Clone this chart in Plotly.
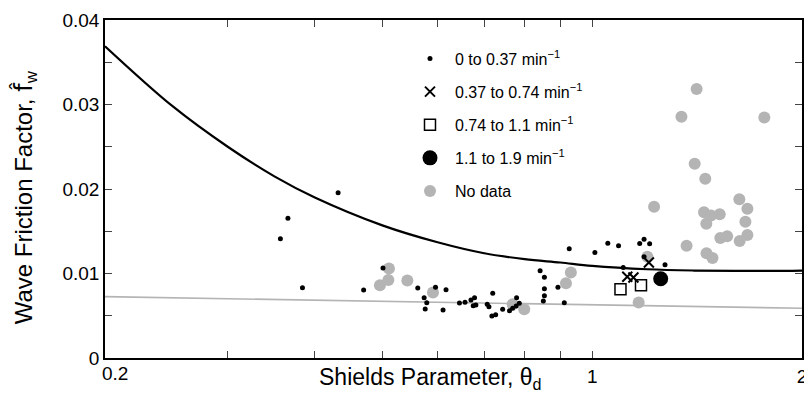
import math
import plotly.graph_objects as go

# ---- data ----
theta_low = [0.432, 0.366, 0.357, 0.384, 0.470, 0.501, 0.562, 0.596, 0.617, 0.574,
             0.579, 0.576, 0.611, 0.645, 0.657, 0.670, 0.678, 0.675, 0.681, 0.707,
             0.711, 0.720, 0.718, 0.727, 0.744, 0.761, 0.769, 0.778, 0.779, 0.786,
             0.842, 0.854, 0.854, 0.854, 0.851, 0.893, 0.912, 0.927, 1.009, 1.053,
             1.091, 1.170, 1.187, 1.209, 1.187, 1.108, 1.272]
fw_low = [0.01956, 0.01653, 0.01412, 0.00832, 0.00805, 0.01065, 0.00828, 0.00837, 0.00808, 0.00714,
          0.00654, 0.00580, 0.00568, 0.00651, 0.00659, 0.00686, 0.00714, 0.00619, 0.00627, 0.00636,
          0.00607, 0.00766, 0.00497, 0.00512, 0.00576, 0.00560, 0.00588, 0.00615, 0.00714, 0.00647,
          0.01033, 0.00955, 0.00819, 0.00737, 0.00675, 0.00838, 0.00654, 0.01292, 0.01249, 0.01357,
          0.01328, 0.01355, 0.01405, 0.01353, 0.01198, 0.01071, 0.01103]

theta_mid = [1.123, 1.146, 1.206]
fw_mid = [0.00962, 0.00953, 0.01130]

theta_high = [1.098, 1.175]
fw_high = [0.00813, 0.00860]

theta_top = [1.254]
fw_top = [0.00937]

theta_nd = [0.511, 0.510, 0.496, 0.543, 0.591, 0.769, 0.799, 0.917, 0.932, 1.166,
            1.200, 1.227, 1.366, 1.343, 1.412, 1.403, 1.453, 1.447, 1.458, 1.481,
            1.524, 1.527, 1.562, 1.459, 1.488, 1.626, 1.670, 1.659, 1.670, 1.628, 1.766]
fw_nd = [0.01059, 0.00923, 0.00862, 0.00917, 0.00775, 0.00637, 0.00576, 0.00884, 0.01012, 0.00657,
         0.01199, 0.01791, 0.01328, 0.02854, 0.03183, 0.02298, 0.02121, 0.01724, 0.01589, 0.01686,
         0.01701, 0.01420, 0.01440, 0.01239, 0.01183, 0.01878, 0.01766, 0.01612, 0.01456, 0.01385, 0.02846]

curve_theta = [0.2, 0.25, 0.3, 0.35, 0.4, 0.5, 0.6, 0.7, 0.8, 0.9,
               1.0, 1.2, 1.4, 1.6, 1.8, 2.0]
curve_fw = [0.0369, 0.0298, 0.0250, 0.0215, 0.0190, 0.0157, 0.0137, 0.0124, 0.0117, 0.0113,
            0.0109, 0.0105, 0.01035, 0.0103, 0.0103, 0.01035]

grey_theta = [0.2, 2.0]
grey_fw = [0.00726, 0.00588]

x_range = [0.2, 2.0]
x_major = [1, 2]
x_major_text = ["1", "2"]
x_minor = [0.3, 0.4, 0.5, 0.6, 0.7, 0.8, 0.9]
y_major = [0, 0.01, 0.02, 0.03, 0.04]
y_major_text = ["0", "0.01", "0.02", "0.03", "0.04"]
y_minor = [0.005, 0.015, 0.025, 0.035]

labels = ["0 to 0.37 min<sup>\u22121</sup>", "0.37 to 0.74 min<sup>\u22121</sup>",
          "0.74 to 1.1 min<sup>\u22121</sup>", "1.1 to 1.9 min<sup>\u22121</sup>", "No data"]

FONT = "Liberation Sans, Arial, Helvetica, sans-serif"
GREY = "#b4b4b4"

fig = go.Figure()
fig.add_trace(go.Scatter(x=grey_theta, y=grey_fw, mode="lines",
                         line=dict(color=GREY, width=1.6), showlegend=False, hoverinfo="skip"))
fig.add_trace(go.Scatter(x=curve_theta, y=curve_fw, mode="lines", line_shape="spline",
                         line=dict(color="black", width=2.2, smoothing=1.0),
                         showlegend=False, hoverinfo="skip"))
fig.add_trace(go.Scatter(x=theta_nd, y=fw_nd, mode="markers", name=labels[4],
                         legendgroup="e", legendrank=5,
                         marker=dict(color=GREY, size=12, line=dict(width=0))))
fig.add_trace(go.Scatter(x=theta_low, y=fw_low, mode="markers", name=labels[0],
                         legendgroup="a", legendrank=1,
                         marker=dict(color="black", size=5, line=dict(width=0))))
fig.add_trace(go.Scatter(x=theta_mid, y=fw_mid, mode="markers", name=labels[1],
                         legendgroup="b", legendrank=2,
                         marker=dict(symbol="x-thin", color="black", size=10,
                                     line=dict(width=2, color="black"))))
fig.add_trace(go.Scatter(x=theta_high, y=fw_high, mode="markers", name=labels[2],
                         legendgroup="c", legendrank=3,
                         marker=dict(symbol="square-open", color="black", size=11,
                                     line=dict(width=1.5, color="black"))))
fig.add_trace(go.Scatter(x=theta_top, y=fw_top, mode="markers", name=labels[3],
                         legendgroup="d", legendrank=4,
                         marker=dict(color="black", size=15, line=dict(width=0))))

axis_common = dict(showline=True, linecolor="black", linewidth=1.5, mirror="ticks",
                   ticks="inside", ticklen=7, tickcolor="#444", tickwidth=1,
                   showgrid=False, zeroline=False, ticklabeloverflow="allow",
                   automargin=False,
                   tickfont=dict(family=FONT, size=19, color="black"))

fig.update_xaxes(type="log",
                 range=[math.log10(x_range[0]) - 1e-6, math.log10(x_range[1]) + 1e-5],
                 tickmode="array", tickvals=x_major, ticktext=x_major_text,
                 minor=dict(tickmode="array", tickvals=x_minor, ticks="inside", ticklen=7,
                            tickcolor="#444", tickwidth=1, showgrid=False),
                 **axis_common)
fig.update_yaxes(range=[0, 0.04], tickmode="array", tickvals=y_major,
                 ticktext=y_major_text,
                 minor=dict(tickmode="array", tickvals=y_minor, ticks="inside", ticklen=7,
                            tickcolor="#444", tickwidth=1, showgrid=False),
                 **axis_common)

# first x tick label, set slightly right of its tick as in the reference
fig.add_annotation(text="0.2", xref="x", yref="paper", x=math.log10(x_range[0]), y=0,
                   xshift=10, yshift=-3,
                   xanchor="center", yanchor="top", showarrow=False,
                   font=dict(family=FONT, size=19, color="black"))
fig.add_annotation(text="Shields Parameter, \u03b8<sub>d</sub>", xref="paper", yref="paper",
                   x=0.467, y=-0.062, xanchor="center", yanchor="middle", showarrow=False,
                   font=dict(family=FONT, size=23, color="black"))
fig.add_annotation(text="Wave Friction Factor, <span style=\"font-family:DejaVu Sans\">f\u0302</span><sub>w</sub>",
                   xref="paper", yref="paper",
                   x=-0.115, y=0.475, xanchor="center", yanchor="middle", showarrow=False,
                   textangle=-90, font=dict(family=FONT, size=24, color="black"))

fig.update_layout(
    width=804, height=397,
    margin=dict(l=105, r=2, t=20, b=39, autoexpand=False),
    paper_bgcolor="white", plot_bgcolor="white",
    font=dict(family=FONT, color="black"),
    legend=dict(x=0.4304, y=0.936, xanchor="left", yanchor="top",
                bgcolor="rgba(0,0,0,0)", borderwidth=0,
                font=dict(family=FONT, size=16, color="black"),
                traceorder="grouped", tracegroupgap=9.3, itemsizing="trace",
                itemwidth=40),
    showlegend=True,
)

fig.write_html("out.html")
